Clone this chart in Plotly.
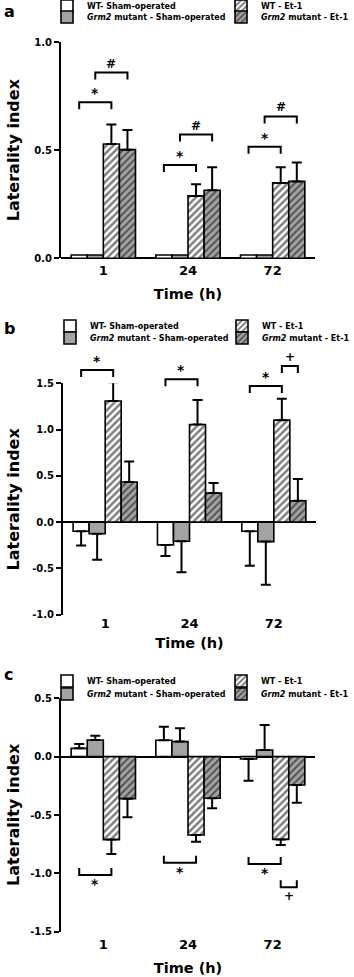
import plotly.graph_objects as go

W, H = 354, 977

# ---------------- data ----------------
categories = ["1", "24", "72"]
series_names = ["WT- Sham-operated", "<i>Grm2</i> mutant - Sham-operated",
                "WT - Et-1", "<i>Grm2</i> mutant - Et-1"]

# panel a
a_wt_sham = [0.015, 0.015, 0.015]
a_mut_sham = [0.015, 0.015, 0.015]
a_wt_et1 = [0.529, 0.289, 0.349]
a_mut_et1 = [0.503, 0.315, 0.356]
a_wt_sham_err = [0.0, 0.0, 0.0]
a_mut_sham_err = [0.0, 0.0, 0.0]
a_wt_et1_err = [0.090, 0.054, 0.072]
a_mut_et1_err = [0.091, 0.106, 0.088]

# panel b
b_wt_sham = [-0.098, -0.246, -0.098]
b_mut_sham = [-0.126, -0.206, -0.210]
b_wt_et1 = [1.308, 1.055, 1.102]
b_mut_et1 = [0.434, 0.314, 0.231]
b_wt_sham_err = [0.155, 0.119, 0.372]
b_mut_sham_err = [0.279, 0.336, 0.466]
b_wt_et1_err = [0.203, 0.264, 0.232]
b_mut_et1_err = [0.220, 0.109, 0.235]

# panel c
c_wt_sham = [0.071, 0.140, -0.020]
c_mut_sham = [0.143, 0.129, 0.057]
c_wt_et1 = [-0.711, -0.671, -0.709]
c_mut_et1 = [-0.360, -0.357, -0.243]
c_wt_sham_err = [0.038, 0.117, 0.186]
c_mut_sham_err = [0.037, 0.114, 0.214]
c_wt_et1_err = [0.123, 0.058, 0.048]
c_mut_et1_err = [0.160, 0.086, 0.151]

# y ticks
a_yticks = [0.0, 0.5, 1.0]
a_yticktext = ["0.0", "0.5", "1.0"]
b_yticks = [-1.0, -0.5, 0.0, 0.5, 1.0, 1.5]
b_yticktext = ["-1.0", "-0.5", "0.0", "0.5", "1.0", "1.5"]
c_yticks = [-1.5, -1.0, -0.5, 0.0, 0.5]
c_yticktext = ["-1.5", "-1.0", "-0.5", "0.0", "0.5"]

# significance brackets: (category index, bar i, bar j, level, symbol)
a_brackets = [(0, 0, 2, 0.722, "*"), (0, 1, 3, 0.860, "#"),
              (1, 0, 2, 0.432, "*"), (1, 1, 3, 0.573, "#"),
              (2, 0, 2, 0.517, "*"), (2, 1, 3, 0.657, "#")]
b_brackets = [(0, 0, 2, 1.644, "*"), (1, 0, 2, 1.543, "*"),
              (2, 0, 2, 1.471, "*"), (2, 2, 3, 1.688, "+")]
c_brackets = [(0, 0, 2, -1.014, "*"), (1, 0, 2, -0.909, "*"),
              (2, 0, 2, -0.920, "*"), (2, 2, 3, -1.120, "+")]

# ---------------- style ----------------
FONT = "DejaVu Sans, Liberation Sans, Arial, sans-serif"
BARGAP = 0.24
GRAY = "#a3a3a3"

panels = [
    dict(letter="a", vals=[a_wt_sham, a_mut_sham, a_wt_et1, a_mut_et1],
         errs=[a_wt_sham_err, a_mut_sham_err, a_wt_et1_err, a_mut_et1_err],
         yr=(0.0, 1.0), ticks=a_yticks, ticktext=a_yticktext, brackets=a_brackets,
         xpx=(61, 315), ypx=(42.3, 258.3), up=True,
         legx=(47, 221), legy=(6, 17), letter_pos=(9, 0), ytitle_x=13, xstand=11, tstand=3),
    dict(letter="b", vals=[b_wt_sham, b_mut_sham, b_wt_et1, b_mut_et1],
         errs=[b_wt_sham_err, b_mut_sham_err, b_wt_et1_err, b_mut_et1_err],
         yr=(-1.0, 1.5), ticks=b_yticks, ticktext=b_yticktext, brackets=b_brackets,
         xpx=(63, 316), ypx=(383.3, 614.7), up=True,
         legx=(50, 222), legy=(326, 338), letter_pos=(9, 317), ytitle_x=12.5, xstand=8, tstand=-1),
    dict(letter="c", vals=[c_wt_sham, c_mut_sham, c_wt_et1, c_mut_et1],
         errs=[c_wt_sham_err, c_mut_sham_err, c_wt_et1_err, c_mut_et1_err],
         yr=(-1.5, 0.5), ticks=c_yticks, ticktext=c_yticktext, brackets=c_brackets,
         xpx=(61, 315), ypx=(698.3, 931.7), up=False,
         legx=(47, 221), legy=(681, 694), letter_pos=(8, 663), ytitle_x=13, xstand=12, tstand=3),
]

markers = [
    dict(color="white", line=dict(color="black", width=1.6)),
    dict(color=GRAY, line=dict(color="black", width=1.6)),
    dict(color="white", line=dict(color="black", width=1.6),
         pattern=dict(shape="/", fgcolor="black", bgcolor="white", size=5, solidity=0.5)),
    dict(color=GRAY, line=dict(color="black", width=1.6),
         pattern=dict(shape="/", fgcolor="black", bgcolor=GRAY, size=5, solidity=0.4)),
]


def py(px):
    return 1 - px / H


def pxx(px):
    return px / W


def legend_name(i):
    return "legend" if i == 1 else f"legend{i}"


fig = go.Figure()
xpos = list(range(len(categories)))
bw = (1 - BARGAP) / 4
offsets = [(k - 1.5) * bw for k in range(4)]

for p, P in enumerate(panels):
    n = p + 1
    xa = "x" if n == 1 else f"x{n}"
    ya = "y" if n == 1 else f"y{n}"
    for k in range(4):
        vals = P["vals"][k]
        errs = P["errs"][k]
        plus = [e if v >= 0 else 0 for v, e in zip(vals, errs)]
        minus = [e if v < 0 else 0 for v, e in zip(vals, errs)]
        li = 4 * p + 1 + k
        fig.add_trace(go.Bar(
            x=xpos, y=vals, name=series_names[k], marker=markers[k],
            xaxis=xa, yaxis=ya, legend=legend_name(li),
            error_y=dict(type="data", symmetric=False, array=plus, arrayminus=minus,
                         color="black", thickness=2, width=5, visible=any(e > 0 for e in errs)),
        ))
        # one legend per entry: column = sham / Et-1, row = WT / mutant
        col = k // 2
        row = k % 2
        fig.update_layout(**{legend_name(li): dict(
            xref="container", yref="container",
            x=pxx(P["legx"][col]), y=py(P["legy"][row]), xanchor="left", yanchor="middle",
            bgcolor="rgba(0,0,0,0)", borderwidth=0, itemwidth=30,
            font=dict(family=FONT, size=8, color="black", weight="bold"),
            itemclick=False, itemdoubleclick=False)})

    # axes
    x0, x1 = P["xpx"]
    yt, yb = P["ypx"]
    ax_x = dict(domain=[pxx(x0), pxx(x1)], range=[-0.5, 2.5], tickvals=xpos, ticktext=categories,
                showline=False, ticks="", showgrid=False, zeroline=False, anchor=ya,
                tickfont=dict(family=FONT, size=13, color="black", weight="bold"),
                ticklabelstandoff=P["tstand"],
                title=dict(text="Time (h)", standoff=P["xstand"],
                           font=dict(family=FONT, size=14.5, color="black", weight="bold")),
                automargin=False, fixedrange=True)
    ax_y = dict(domain=[py(yb), py(yt)], range=list(P["yr"]), tickvals=P["ticks"], ticktext=P["ticktext"],
                showline=True, linecolor="black", linewidth=2, ticks="outside", ticklen=5,
                tickwidth=2, tickcolor="black", showgrid=False,
                zeroline=True, zerolinecolor="black", zerolinewidth=2, anchor=xa,
                tickfont=dict(family=FONT, size=10, color="black", weight="bold"),
                automargin=False, fixedrange=True)
    fig.update_layout(**{("xaxis" if n == 1 else f"xaxis{n}"): ax_x,
                         ("yaxis" if n == 1 else f"yaxis{n}"): ax_y})

    # y-axis title
    fig.add_annotation(text="Laterality index", xref="paper", yref="paper",
                       x=pxx(P["ytitle_x"]), y=py((yt + yb) / 2), textangle=-90,
                       showarrow=False, xanchor="center", yanchor="middle",
                       font=dict(family=FONT, size=16, color="black", weight="bold"))

    # panel letter
    fig.add_annotation(text=P["letter"], xref="paper", yref="paper",
                       x=pxx(P["letter_pos"][0]), y=py(P["letter_pos"][1]),
                       showarrow=False, xanchor="center", yanchor="top",
                       font=dict(family=FONT, size=16, color="black", weight="bold"))

    # brackets
    lo, hi = P["yr"]
    d0, d1 = py(yb), py(yt)

    def to_paper(v):
        return d0 + (v - lo) / (hi - lo) * (d1 - d0)

    leg_len = 7 / H
    for (ci, bi, bj, lev, sym) in P["brackets"]:
        xa_ = xpos[ci] + offsets[bi]
        xb_ = xpos[ci] + offsets[bj]
        ytop = to_paper(lev)
        yleg = ytop - leg_len if P["up"] else ytop + leg_len
        fig.add_shape(type="path", xref=xa, yref="paper",
                      path=f"M {xa_},{yleg} L {xa_},{ytop} L {xb_},{ytop} L {xb_},{yleg}",
                      line=dict(color="black", width=2))
        sy = ytop + (9 / H if P["up"] else -9 / H)
        fig.add_annotation(text=sym, xref=xa, yref="paper", x=(xa_ + xb_) / 2, y=sy,
                           showarrow=False, xanchor="center", yanchor="middle",
                           font=dict(family=FONT, size=12 if sym != "*" else 14,
                                     color="black", weight="bold"))

fig.update_layout(
    width=W, height=H, autosize=False,
    margin=dict(l=0, r=0, t=0, b=0, autoexpand=False),
    paper_bgcolor="white", plot_bgcolor="white",
    barmode="group", bargap=BARGAP, bargroupgap=0,
    showlegend=True,
)

fig.write_html("out.html", config={"displayModeBar": False},
               post_script="document.body.style.margin='0px';")
